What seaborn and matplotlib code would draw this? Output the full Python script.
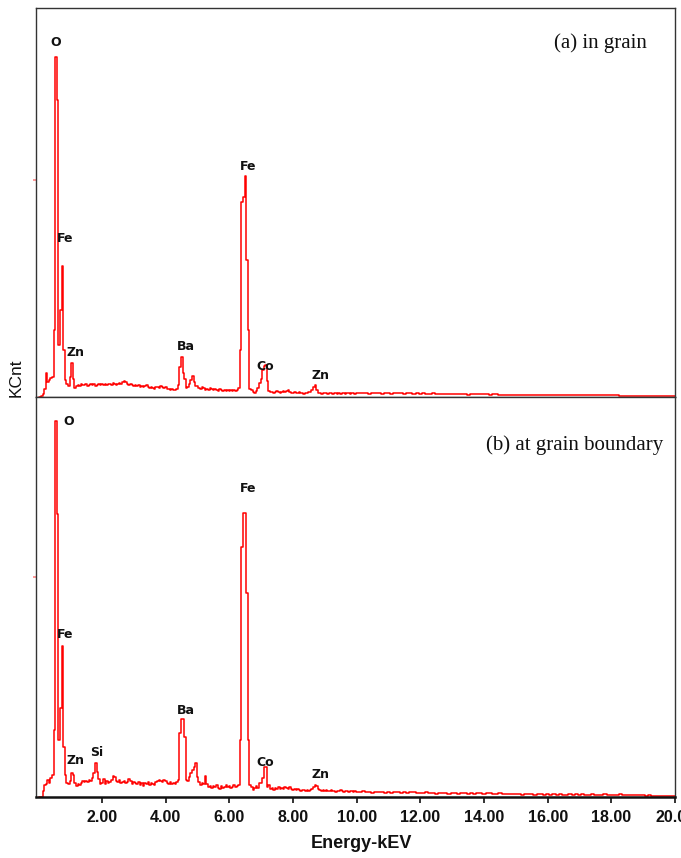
import numpy as np
import pandas as pd
import matplotlib
matplotlib.use("Agg")
import matplotlib.pyplot as plt
import seaborn as sns

# ---- EDS spectra (counts per channel, arbitrary units) ----
# channels 0.00-9.95 keV every 0.05 keV, then 10.0-20.0 keV every 0.1 keV
energy_low = np.round(np.arange(200) * 0.05, 2)
energy_high = np.round(10.0 + np.arange(101) * 0.1, 1)

counts_grain_low = [
    0, 0, 1, 3, 8, 24, 15, 17, 19, 20, 67, 340, 297, 52, 87, 131, 47, 17, 13, 11,
    20, 34, 18, 9, 11, 12, 11, 13, 12, 12, 13, 11, 12, 13, 12, 13, 11, 12, 13, 12,
    13, 12, 13, 12, 13, 13, 12, 14, 13, 12, 13, 14, 13, 15, 16, 15, 13, 12, 13, 12,
    11, 12, 11, 12, 10, 11, 10, 11, 12, 10, 9, 10, 9, 8, 10, 10, 9, 11, 10, 9,
    10, 8, 8, 7, 8, 7, 7, 8, 12, 30, 40, 24, 18, 9, 10, 13, 17, 21, 15, 11,
    11, 9, 8, 10, 9, 7, 8, 7, 9, 8, 7, 8, 7, 6, 8, 7, 6, 7, 6, 7,
    6, 7, 6, 7, 6, 7, 9, 47, 195, 200, 221, 137, 67, 8, 7, 5, 4, 6, 9, 14,
    18, 27, 31, 32, 16, 6, 5, 5, 4, 5, 6, 5, 4, 5, 6, 5, 6, 7, 5, 4,
    4, 5, 4, 4, 5, 4, 4, 3, 4, 4, 5, 5, 7, 10, 12, 7, 4, 4, 3, 4,
    4, 4, 3, 4, 4, 3, 4, 4, 3, 4, 3, 4, 4, 3, 4, 4, 3, 4, 4, 3,
]
counts_grain_high = [
    4, 4, 4, 4, 3, 4, 4, 4, 3, 4,
    4, 3, 4, 4, 4, 3, 4, 4, 3, 4,
    3, 4, 3, 3, 4, 3, 3, 3, 3, 3,
    3, 3, 3, 3, 3, 2, 3, 3, 3, 3,
    3, 3, 2, 3, 3, 2, 2, 2, 2, 2,
    2, 2, 2, 2, 2, 2, 2, 2, 2, 2,
    2, 2, 2, 2, 2, 2, 2, 2, 2, 2,
    2, 2, 2, 2, 2, 2, 2, 2, 2, 2,
    2, 2, 2, 1, 1, 1, 1, 1, 1, 1,
    1, 1, 1, 1, 1, 1, 1, 1, 1, 1,
    1,
]

counts_boundary_low = [
    0, 0, 0, 6, 12, 13, 17, 14, 19, 22, 67, 376, 283, 57, 89, 151, 50, 22, 14, 13,
    16, 24, 22, 14, 11, 13, 12, 14, 16, 15, 16, 15, 17, 16, 19, 24, 34, 25, 18, 13,
    14, 18, 13, 16, 14, 15, 17, 21, 20, 16, 15, 17, 14, 15, 16, 14, 15, 18, 16, 13,
    15, 14, 13, 15, 12, 14, 11, 14, 13, 15, 12, 14, 13, 12, 15, 16, 17, 16, 15, 17,
    16, 14, 13, 15, 13, 14, 13, 15, 17, 64, 78, 78, 60, 17, 16, 20, 24, 27, 30, 34,
    20, 15, 12, 14, 13, 21, 13, 10, 11, 9, 11, 10, 12, 9, 8, 11, 9, 10, 12, 10,
    11, 9, 10, 12, 10, 11, 12, 57, 250, 284, 284, 204, 57, 12, 10, 7, 9, 11, 9, 14,
    14, 19, 30, 30, 10, 12, 8, 9, 7, 9, 8, 10, 8, 9, 8, 10, 9, 8, 10, 8,
    7, 8, 7, 8, 7, 6, 7, 7, 6, 7, 6, 7, 8, 10, 12, 11, 8, 7, 6, 7,
    6, 7, 6, 6, 7, 6, 6, 5, 6, 6, 7, 6, 5, 6, 6, 5, 6, 6, 5, 6,
]
counts_boundary_high = [
    5, 5, 6, 5, 5, 4, 5, 5, 5, 4,
    5, 4, 5, 5, 4, 5, 4, 5, 5, 4,
    4, 4, 5, 4, 4, 3, 4, 4, 4, 3,
    4, 4, 3, 4, 4, 3, 4, 3, 4, 4,
    3, 4, 4, 3, 3, 4, 3, 3, 3, 3,
    3, 3, 2, 3, 3, 3, 2, 3, 3, 2,
    3, 2, 3, 2, 3, 2, 2, 3, 2, 3,
    2, 3, 2, 2, 3, 2, 2, 2, 3, 2,
    2, 2, 2, 3, 2, 2, 2, 2, 2, 2,
    2, 1, 2, 1, 1, 1, 1, 1, 1, 1,
    1,
]

# element labels: (text, energy keV, height)
labels_grain = [
    ("O", 0.54, 354), ("Fe", 0.83, 158), ("Zn", 1.15, 44), ("Ba", 4.63, 50),
    ("Fe", 6.58, 231), ("Co", 7.12, 30), ("Zn", 8.87, 21),
]
labels_boundary = [
    ("O", 0.94, 376), ("Fe", 0.83, 163), ("Zn", 1.15, 37), ("Si", 1.83, 45),
    ("Ba", 4.63, 87), ("Fe", 6.58, 309), ("Co", 7.12, 35), ("Zn", 8.85, 22),
]

x_ticks = [2, 4, 6, 8, 10, 12, 14, 16, 18, 20]
x_tick_labels = ["2.00", "4.00", "6.00", "8.00", "10.00", "12.00",
                 "14.00", "16.00", "18.00", "20.00"]

sns.set_style("white")

W, H = 681, 858
fig = plt.figure(figsize=(W / 100, H / 100), dpi=100)

left = 36 / W
width = (675 - 36) / W
ax_a = fig.add_axes([left, 1 - 397 / H, width, (397 - 7.5) / H])
ax_b = fig.add_axes([left, 1 - 797 / H, width, 400 / H])


def spectrum_frame(e_low, c_low, e_high, c_high):
    return pd.DataFrame({
        "energy": np.concatenate([e_low, e_high]),
        "counts": np.concatenate([c_low, c_high]).astype(float),
    })


df_a = spectrum_frame(energy_low, counts_grain_low, energy_high, counts_grain_high)
df_b = spectrum_frame(energy_low, counts_boundary_low, energy_high, counts_boundary_high)

for ax, df, ymax, labels, mark in [
    (ax_a, df_a, 389.5, labels_grain, 217),
    (ax_b, df_b, 400, labels_boundary, 220),
]:
    sns.lineplot(data=df, x="energy", y="counts", ax=ax, color="#ff0000",
                 linewidth=1.1, drawstyle="steps-mid", estimator=None, sort=False)
    ax.set_xlim(-0.08, 20.0)
    ax.set_ylim(0, ymax)
    ax.set_xlabel("")
    ax.set_ylabel("")
    for txt, ex, hy in labels:
        ax.text(ex, hy, txt, ha="center", va="center", fontsize=9,
                fontweight="bold", family="DejaVu Sans", color="#111111")
    ax.set_yticks([mark])
    ax.set_yticklabels([""])
    ax.tick_params(axis="y", left=True, direction="out", length=2.5,
                   width=1.3, color="#ff9090")
    for side in ["top", "right", "left", "bottom"]:
        ax.spines[side].set_visible(True)
        ax.spines[side].set_color("#333333")
        ax.spines[side].set_linewidth(1.0)

ax_a.set_xticks([])
ax_b.set_xticks(x_ticks)
ax_b.set_xticklabels(x_tick_labels)
ax_b.tick_params(axis="x", bottom=True, direction="out", length=4.5, width=1.2,
                 color="#111111", pad=5, labelsize=11.5)
for lab in ax_b.get_xticklabels():
    lab.set_fontweight("bold")
    lab.set_family("Liberation Sans")
    lab.set_color("#111111")
ax_b.spines["bottom"].set_linewidth(1.8)
ax_b.spines["bottom"].set_color("#111111")

fig.text(647 / W, 1 - 43 / H, "(a) in grain", ha="right", va="center",
         fontsize=15, family="Liberation Serif", color="#111111")
fig.text(663 / W, 1 - 445 / H, "(b) at grain boundary", ha="right", va="center",
         fontsize=15, family="Liberation Serif", color="#111111")

fig.text(16.5 / W, 1 - 378 / H, "KCnt", rotation=90, ha="center", va="center",
         fontsize=12.5, family="Liberation Sans", color="#111111")
fig.text(361 / W, 1 - 843 / H, "Energy-kEV", ha="center", va="center",
         fontsize=13, fontweight="bold", family="Liberation Sans", color="#111111")

fig.savefig("out.png", dpi=100)
